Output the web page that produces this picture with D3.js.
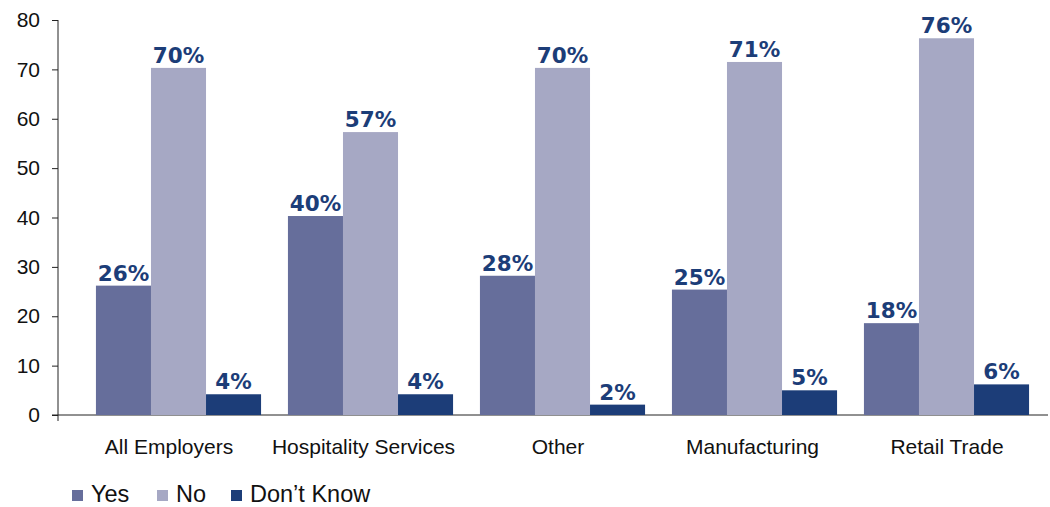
<!DOCTYPE html>
<html><head><meta charset="utf-8">
<script src="https://cdn.jsdelivr.net/npm/d3@7"></script>
<style>body{margin:0;background:#fff;} svg{display:block;}</style>
</head><body>
<svg id="c" width="1050" height="507"></svg>
<script>
const categories = ["All Employers","Hospitality Services","Other","Manufacturing","Retail Trade"];
const seriesNames = ["Yes","No","Don\u2019t Know"];
const yes = [26.2, 40.3, 28.2, 25.4, 18.6];
const no = [70.3, 57.3, 70.3, 71.5, 76.3];
const dontKnow = [4.2, 4.2, 2.1, 5.0, 6.2];
const labelsYes = ["26%","40%","28%","25%","18%"];
const labelsNo = ["70%","57%","70%","71%","76%"];
const labelsDK = ["4%","4%","2%","5%","6%"];
const yTicks = [0,10,20,30,40,50,60,70,80];
const colors = ["#666e9b","#a6a8c4","#1c3d78"];

const series = [yes, no, dontKnow];
const seriesLabels = [labelsYes, labelsNo, labelsDK];

const svg = d3.select("#c");
const y = d3.scaleLinear().domain([0,80]).range([415,20]);
const x0 = d3.scaleBand().domain(categories).range([82.5,1042.5]).paddingInner(0.14).paddingOuter(0.07);
const x1 = d3.scaleBand().domain(d3.range(3)).range([0, x0.bandwidth()]);
const xLab = d3.scaleBand().domain(categories).range([71.75,1044.25]);

// y axis
const yAxis = d3.axisLeft(y).tickValues(yTicks).tickSize(6).tickSizeOuter(0).tickPadding(12);
const ya = svg.append("g").attr("transform","translate(58,0)").call(yAxis);
ya.select(".domain").remove();
ya.selectAll(".tick line").attr("stroke","#222");
ya.selectAll("text").attr("font-family","'Liberation Sans', Arial, sans-serif").attr("font-size",21).attr("fill","#111");
svg.append("line").attr("x1",58).attr("x2",58).attr("y1",y(80)).attr("y2",421).attr("stroke","#222");
svg.append("line").attr("x1",52).attr("x2",1048).attr("y1",y(0)).attr("y2",y(0)).attr("stroke","#222");

// bars
categories.forEach((c,i)=>{
  const g = svg.append("g").attr("transform",`translate(${x0(c)},0)`);
  series.forEach((s,j)=>{
    g.append("rect").attr("x",x1(j)).attr("width",x1.bandwidth())
      .attr("y",y(s[i])).attr("height",y(0)-y(s[i])).attr("fill",colors[j]);
    g.append("text").attr("x",x1(j)+x1.bandwidth()/2).attr("y",y(s[i])-5)
      .attr("text-anchor","middle").attr("font-family","'DejaVu Sans', Verdana, sans-serif")
      .attr("font-weight","bold").attr("font-size",21.5).attr("fill","#1c3d78")
      .text(seriesLabels[j][i]);
  });
  svg.append("text").attr("x",xLab(c)+xLab.bandwidth()/2).attr("y",454)
    .attr("text-anchor","middle").attr("font-family","'Liberation Sans', Arial, sans-serif")
    .attr("font-size",21).attr("fill","#111").text(c);
});

// legend
const legX = [72,157,231];
seriesNames.forEach((n,j)=>{
  svg.append("rect").attr("x",legX[j]).attr("y",490).attr("width",11).attr("height",11).attr("fill",colors[j]);
  svg.append("text").attr("x",legX[j]+19).attr("y",502).attr("font-family","'Liberation Sans', Arial, sans-serif")
    .attr("font-size",23.5).attr("fill","#111").text(n);
});
</script>
</body></html>
